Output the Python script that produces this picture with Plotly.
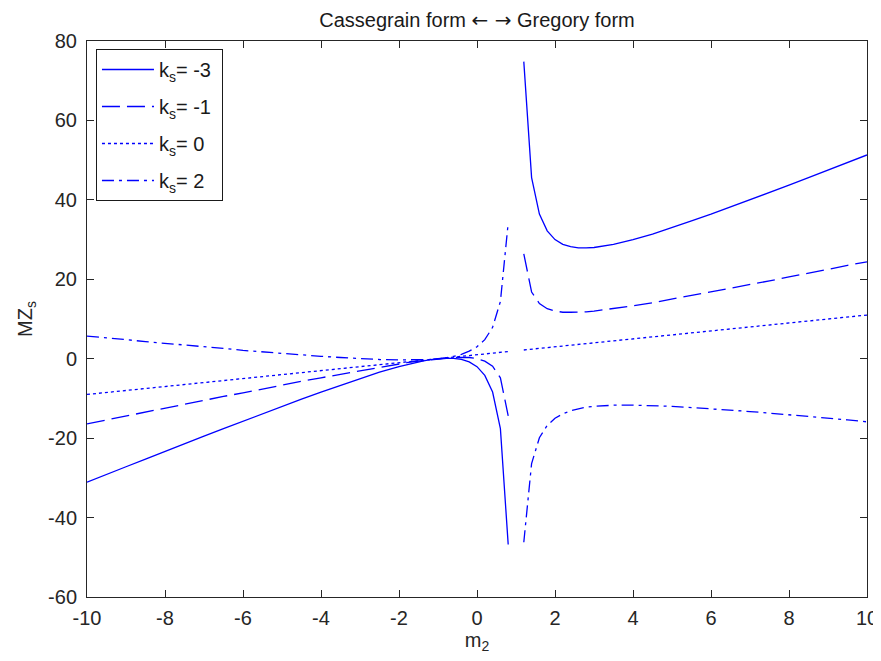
import plotly.graph_objects as go

# m2 values (gap at m2 = 1, where MZ_s is undefined)
m2 = [-10, -9.5, -9, -8.5, -8, -7.5, -7, -6.5, -6, -5.5, -5, -4.5, -4, -3.5, -3, -2.5, -2,
      -1.8, -1.6, -1.4, -1.2, -1.0, -0.8, -0.6, -0.4, -0.2, 0, 0.2, 0.4, 0.6, 0.8,
      1.0,
      1.2, 1.4, 1.6, 1.8, 2.0, 2.2, 2.4, 2.6, 2.8, 3.0,
      3.5, 4, 4.5, 5, 5.5, 6, 6.5, 7, 7.5, 8, 8.5, 9, 9.5, 10]

mz_km3 = [-31.1, -29.1, -27.2, -25.3, -23.3, -21.4, -19.5, -17.6, -15.7, -13.8, -12.0, -10.2, -8.4, -6.7, -5.0, -3.4, -2.0,
          -1.5, -1.0, -0.6, -0.25, 0.0, 0.13, 0.1, -0.17, -0.8, -2.0, -4.2, -8.4, -17.6, -46.8,
          None,
          74.8, 45.6, 36.4, 32.2, 30.0, 28.8, 28.2, 27.9, 27.9, 28.0,
          28.8, 30.0, 31.4, 33.0, 34.7, 36.4, 38.2, 40.0, 41.8, 43.7, 45.6, 47.5, 49.4, 51.3]

mz_km1 = [-16.4, -15.4, -14.4, -13.4, -12.4, -11.5, -10.5, -9.5, -8.6, -7.6, -6.7, -5.7, -4.8, -3.9, -3.0, -2.1, -1.3,
          -1.0, -0.7, -0.5, -0.2, 0.0, 0.2, 0.3, 0.3, 0.3, 0.0, -0.6, -1.9, -4.8, -14.4,
          None,
          26.4, 16.8, 13.9, 12.6, 12.0, 11.7, 11.7, 11.7, 11.8, 12.0,
          12.6, 13.3, 14.1, 15.0, 15.9, 16.8, 17.7, 18.7, 19.6, 20.6, 21.5, 22.5, 23.5, 24.4]

mz_k0 = [-9.0, -8.5, -8.0, -7.5, -7.0, -6.5, -6.0, -5.5, -5.0, -4.5, -4.0, -3.5, -3.0, -2.5, -2.0, -1.5, -1.0,
         -0.8, -0.6, -0.4, -0.2, 0.0, 0.2, 0.4, 0.6, 0.8, 1.0, 1.2, 1.4, 1.6, 1.8,
         None,
         2.2, 2.4, 2.6, 2.8, 3.0, 3.2, 3.4, 3.6, 3.8, 4.0,
         4.5, 5.0, 5.5, 6.0, 6.5, 7.0, 7.5, 8.0, 8.5, 9.0, 9.5, 10.0, 10.5, 11.0]

mz_k2 = [5.7, 5.3, 4.8, 4.3, 3.9, 3.4, 3.0, 2.6, 2.1, 1.7, 1.3, 1.0, 0.6, 0.3, 0.0, -0.2, -0.3,
         -0.3, -0.3, -0.3, -0.2, 0.0, 0.2, 0.6, 1.1, 1.9, 3.0, 4.8, 7.9, 14.4, 34.2,
         None,
         -46.2, -26.4, -19.9, -16.8, -15.0, -13.9, -13.1, -12.6, -12.2, -12.0,
         -11.7, -11.7, -11.8, -12.0, -12.3, -12.6, -13.0, -13.3, -13.7, -14.1, -14.6, -15.0, -15.4, -15.9]

series_names = ["k<sub>s</sub>= -3", "k<sub>s</sub>= -1", "k<sub>s</sub>= 0", "k<sub>s</sub>= 2"]
series_vals = [mz_km3, mz_km1, mz_k0, mz_k2]
dashes = ["solid", "18px,7px", "3px,3px", "12px,5px,3px,5px"]

x_ticks = [-10, -8, -6, -4, -2, 0, 2, 4, 6, 8, 10]
y_ticks = [-60, -40, -20, 0, 20, 40, 60, 80]

FONT = "Liberation Sans, Arial, sans-serif"
FS = 20

fig = go.Figure()
for i, (name, vals, dash) in enumerate(zip(series_names, series_vals, dashes)):
    fig.add_trace(go.Scatter(
        x=m2, y=vals, mode="lines", name=name + "\u00a0", legendgroup=f"g{i}",
        line=dict(color="#0000ff", width=1.3, dash=dash),
        connectgaps=False,
    ))

axis_common = dict(
    showline=True, linecolor="#262626", linewidth=1, mirror="ticks",
    ticks="inside", ticklen=7, tickcolor="#262626", tickwidth=1,
    showgrid=False, zeroline=False, automargin=False,
    tickfont=dict(family=FONT, size=FS, color="#262626"),
)

title_text = ("Cassegrain form "
              "<span style='font-family:DejaVu Sans'>\u2190 \u2192</span>"
              " Gregory form")

# the page body adds an 8px offset, so the figure is 8px smaller than the window
fig.update_layout(
    width=873, height=653,
    margin=dict(l=79, r=14, t=33, b=64),
    paper_bgcolor="white", plot_bgcolor="white",
    font=dict(family=FONT, size=FS, color="#262626"),
    title=dict(text=title_text, x=0.5, xref="paper", xanchor="center",
               y=0.981, yanchor="middle", font=dict(family=FONT, size=FS, color="#1a1a1a")),
    xaxis=dict(range=[-10, 10], tickvals=x_ticks, ticktext=[str(v) for v in x_ticks],
               title=dict(text="m<sub>2</sub>", font=dict(family=FONT, size=FS), standoff=2),
               ticklabelstandoff=3, **axis_common),
    yaxis=dict(range=[-60, 80], tickvals=y_ticks, ticktext=[str(v) for v in y_ticks],
               title=dict(text="MZ<sub>s</sub>", font=dict(family=FONT, size=FS), standoff=10),
               ticklabelstandoff=5, **axis_common),
    legend=dict(x=0.0115, y=0.9856, xanchor="left", yanchor="top",
                bgcolor="white", bordercolor="#1a1a1a", borderwidth=1,
                font=dict(family=FONT, size=FS, color="#1a1a1a"),
                traceorder="grouped", tracegroupgap=8, itemwidth=52),
    showlegend=True,
)

fig.write_html("out.html")
